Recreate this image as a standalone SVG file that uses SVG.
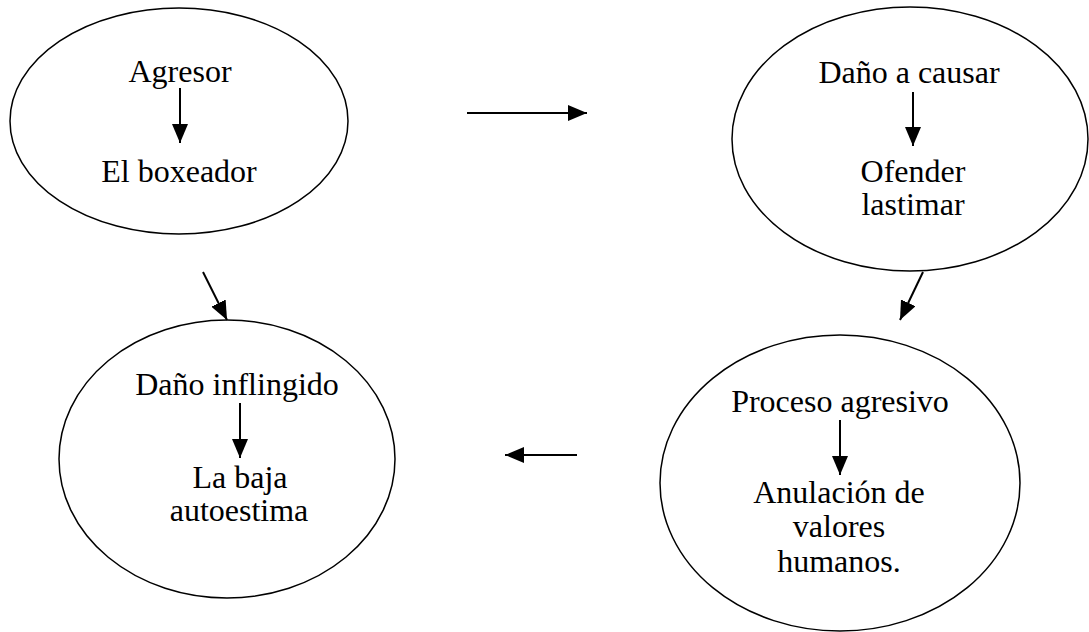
<svg xmlns="http://www.w3.org/2000/svg" width="1089" height="632" viewBox="0 0 1089 632">
<style>
.node ellipse{fill:#fff;stroke:#000;stroke-width:1.5}
text{font-family:"Liberation Serif","Times New Roman",serif;font-size:32px;fill:#000;text-anchor:middle}
.conn line{stroke:#000;stroke-width:2;fill:none}
</style>
<defs>
<marker id="ah" markerUnits="userSpaceOnUse" markerWidth="19" markerHeight="16" refX="19" refY="8" orient="auto">
<path d="M0,0 L19,8 L0,16 z" fill="#000"/>
</marker>
</defs>
<rect width="1089" height="632" fill="#fff"/>
<g id="n1" class="node">
<ellipse cx="179" cy="121" rx="169" ry="113"/>
<text x="180" y="82">Agresor</text>
<text x="179" y="182">El boxeador</text>
</g>
<g id="n2" class="node">
<ellipse cx="910" cy="139" rx="178" ry="132"/>
<text x="909" y="83">Daño a causar</text>
<text x="913" y="182">Ofender</text>
<text x="913" y="215">lastimar</text>
</g>
<g id="n3" class="node">
<ellipse cx="227" cy="459" rx="168" ry="139"/>
<text x="237" y="395">Daño inflingido</text>
<text x="240" y="488">La baja</text>
<text x="239" y="521">autoestima</text>
</g>
<g id="n4" class="node">
<ellipse cx="840" cy="483" rx="180" ry="148"/>
<text x="840" y="412">Proceso agresivo</text>
<text x="839" y="503">Anulación de</text>
<text x="839" y="537">valores</text>
<text x="839" y="572">humanos.</text>
</g>
<g id="connectors" class="conn">
<line x1="180" y1="88" x2="180" y2="143" marker-end="url(#ah)"/>
<line x1="913" y1="92" x2="913" y2="146" marker-end="url(#ah)"/>
<line x1="240" y1="403" x2="240" y2="458" marker-end="url(#ah)"/>
<line x1="840" y1="420" x2="840" y2="475" marker-end="url(#ah)"/>
<line x1="467" y1="113" x2="587" y2="113" marker-end="url(#ah)"/>
<line x1="923" y1="272" x2="900" y2="320" marker-end="url(#ah)"/>
<line x1="577" y1="455" x2="505" y2="455" marker-end="url(#ah)"/>
<line x1="203" y1="272" x2="227" y2="320" marker-end="url(#ah)"/>
</g>
</svg>
